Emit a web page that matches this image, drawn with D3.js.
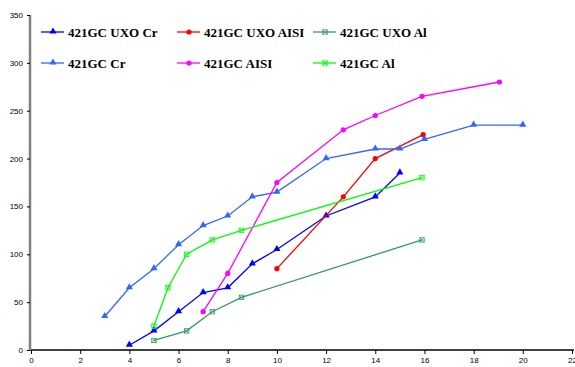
<!DOCTYPE html>
<html>
<head>
<meta charset="utf-8">
<script src="https://cdn.jsdelivr.net/npm/d3@7"></script>
<style>
  body { margin: 0; background: #fff; }
  svg { display: block; }
  .tick text { font-family: "Liberation Sans", Arial, sans-serif; font-size: 8px; fill: #000; }
  .legend text { font-family: "Liberation Serif", "Times New Roman", serif; font-size: 13px; font-weight: bold; }
</style>
</head>
<body>
<div id="chart"></div>
<script>
// tick values
var xTicks = [0, 2, 4, 6, 8, 10, 12, 14, 16, 18, 20, 22];
var yTicks = [0, 50, 100, 150, 200, 250, 300, 350];

// series values
var uxoCrX = [4, 5, 6, 7, 8, 9, 10, 12, 14, 15];
var uxoCrY = [5, 20, 40, 60, 65, 90, 105, 140, 160, 185];

var uxoAisiX = [10, 12.7, 14, 15.95];
var uxoAisiY = [85, 160, 200, 225];

var uxoAlX = [5, 6.33, 7.37, 8.56, 15.9];
var uxoAlY = [10, 20, 40, 55, 115];

var crX = [3, 4, 5, 6, 7, 8, 9, 10, 12, 14, 15, 16, 18, 20];
var crY = [35, 65, 85, 110, 130, 140, 160, 165, 200, 210, 210, 220, 235, 235];

var aisiX = [7, 8, 10, 12.7, 14, 15.9, 19.05];
var aisiY = [40, 80, 175, 230, 245, 265, 280];

var alX = [5, 5.57, 6.33, 7.37, 8.56, 15.9];
var alY = [25, 65, 100, 115, 125, 180];

function zip(xs, ys) {
    return xs.map(function(x, i) { return {x: x, y: ys[i]}; });
}

var series = [
    {name: "421GC UXO Cr",   color: "#0000ff", marker: "tri",  fill: true,  data: zip(uxoCrX, uxoCrY)},
    {name: "421GC UXO AISI", color: "#ff0000", marker: "dot",  fill: true,  data: zip(uxoAisiX, uxoAisiY)},
    {name: "421GC UXO Al",   color: "#339966", marker: "star", fill: false, data: zip(uxoAlX, uxoAlY)},
    {name: "421GC Cr",       color: "#3366ff", marker: "tri",  fill: true,  data: zip(crX, crY)},
    {name: "421GC AISI",     color: "#ff00ff", marker: "dot",  fill: true,  data: zip(aisiX, aisiY)},
    {name: "421GC Al",       color: "#00ff00", marker: "star", fill: false, data: zip(alX, alY)}
];

var width = 575, height = 367;

var svg = d3.select("#chart").append("svg")
    .attr("width", width)
    .attr("height", height);

var x = d3.scaleLinear().domain([0, 22]).range([31, 572]);
var y = d3.scaleLinear().domain([0, 350]).range([350, 15]);

// x axis
var xAxis = svg.append("g")
    .attr("transform", "translate(0," + y(0) + ")")
    .call(d3.axisBottom(x).tickValues(xTicks).tickSize(4).tickPadding(3).tickFormat(d3.format("d")));
xAxis.select(".domain").attr("stroke", "#000").attr("stroke-width", 1.5).attr("d", "M30,0H574");

// y axis (grey and heavier in the original)
var yAxis = svg.append("g")
    .attr("transform", "translate(30,0)")
    .call(d3.axisLeft(y).tickValues(yTicks).tickSize(3).tickPadding(4).tickFormat(d3.format("d")));
yAxis.select(".domain").attr("stroke", "#808080").attr("stroke-width", 2.5)
    .attr("d", "M0," + y(350) + "V" + y(0));
yAxis.selectAll(".tick line").attr("stroke", "#000");

var line = d3.line()
    .x(function(d) { return x(d.x); })
    .y(function(d) { return y(d.y); });

function drawMarker(g, s, cx, cy, scale) {
    scale = scale || 1;
    if (s.marker === "tri") {
        g.append("path")
            .attr("d", d3.symbol().type(d3.symbolTriangle).size(22 * scale)())
            .attr("transform", "translate(" + cx + "," + (cy - 0.5) + ")")
            .attr("fill", s.color);
    } else if (s.marker === "dot") {
        g.append("circle")
            .attr("cx", cx).attr("cy", cy).attr("r", 2.6 * Math.sqrt(scale))
            .attr("fill", s.color);
    } else {
        var r = 2.2;
        g.append("rect")
            .attr("x", cx - r).attr("y", cy - r)
            .attr("width", 2 * r).attr("height", 2 * r)
            .attr("fill", "none").attr("stroke", s.color).attr("stroke-width", 0.8);
        g.append("path")
            .attr("d", "M" + (cx - r) + "," + (cy - r) + "L" + (cx + r) + "," + (cy + r) +
                       "M" + (cx + r) + "," + (cy - r) + "L" + (cx - r) + "," + (cy + r))
            .attr("stroke", s.color).attr("stroke-width", 0.8);
    }
}

var plot = svg.append("g");

series.forEach(function(s) {
    var g = plot.append("g");
    g.append("path")
        .datum(s.data)
        .attr("d", line)
        .attr("fill", "none")
        .attr("stroke", s.color)
        .attr("stroke-width", 1.3);
    s.data.forEach(function(d) {
        drawMarker(g, s, x(d.x), y(d.y));
    });
});

// legend, 3 columns x 2 rows
var legX = [41, 177, 313];
var legY = [32, 63];
var legend = svg.append("g").attr("class", "legend");

series.forEach(function(s, i) {
    var col = i % 3, row = Math.floor(i / 3);
    var lx = legX[col], ly = legY[row];
    var g = legend.append("g");
    g.append("line")
        .attr("x1", lx).attr("x2", lx + 23)
        .attr("y1", ly).attr("y2", ly)
        .attr("stroke", s.color).attr("stroke-width", 1.3);
    drawMarker(g, s, lx + 12, ly);
    g.append("text")
        .attr("x", lx + 27)
        .attr("y", ly + 4.5)
        .text(s.name);
});
</script>
</body>
</html>
